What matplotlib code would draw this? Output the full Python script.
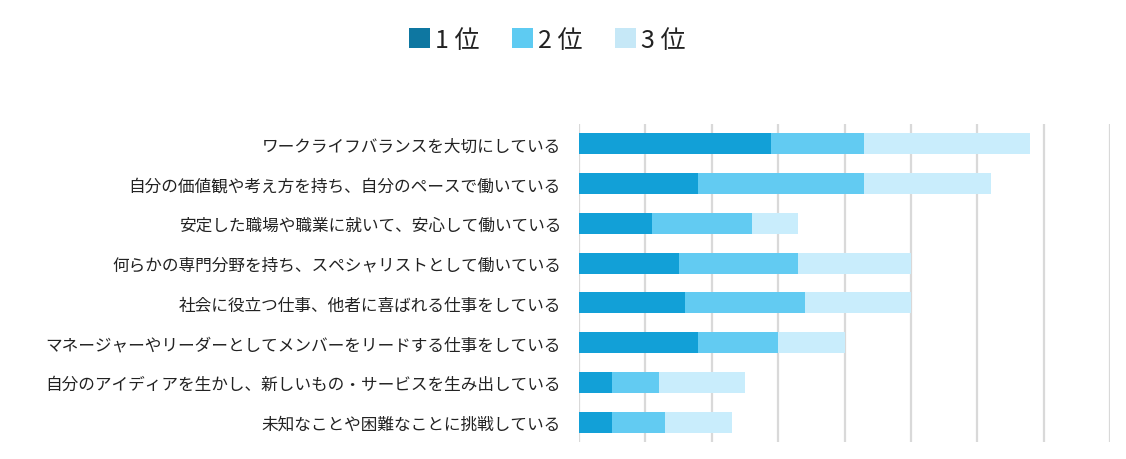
import matplotlib
matplotlib.use("Agg")
import matplotlib.pyplot as plt
from matplotlib.patches import Patch
import numpy as np

plt.rcParams['font.family'] = ['Noto Sans CJK JP', 'DejaVu Sans']

categories = [
    "ワークライフバランスを大切にしている",
    "自分の価値観や考え方を持ち、自分のペースで働いている",
    "安定した職場や職業に就いて、安心して働いている",
    "何らかの専門分野を持ち、スペシャリストとして働いている",
    "社会に役立つ仕事、他者に喜ばれる仕事をしている",
    "マネージャーやリーダーとしてメンバーをリードする仕事をしている",
    "自分のアイディアを生かし、新しいもの・サービスを生み出している",
    "未知なことや困難なことに挑戦している",
]
series_names = ["1 位", "2 位", "3 位"]
rank1 = [29, 18, 11, 15, 16, 18, 5, 5]
rank2 = [14, 25, 15, 18, 18, 12, 7, 8]
rank3 = [25, 19, 7, 17, 16, 10, 13, 10]

bar_colors = ["#12a0d7", "#62cbf2", "#c9edfc"]
legend_colors = ["#0e77a1", "#5ecbf2", "#c6e8f7"]

fig = plt.figure(figsize=(11.26, 4.60), dpi=100)
ax = fig.add_axes([579/1126, 1-443/460, (1110-579)/1126, (443-125)/460])

y = np.arange(len(categories))
left = np.zeros(len(categories))
for vals, c in zip([rank1, rank2, rank3], bar_colors):
    ax.barh(y, vals, left=left, height=0.53, color=c, zorder=3)
    left = left + np.array(vals)

ax.set_xlim(0, 80)
ax.set_ylim(len(categories) - 0.5, -0.5)
ax.set_xticks(np.arange(0, 81, 10))
ax.xaxis.grid(True, color="#d9d9d9", linewidth=1.6, zorder=0)
ax.tick_params(axis='x', length=0, labelbottom=False)
ax.set_yticks(y)
ax.set_yticklabels(categories, fontsize=12, color="#222222")
ax.tick_params(axis='y', length=0, pad=13)
for s in ax.spines.values():
    s.set_visible(False)

handles = [Patch(facecolor=c, edgecolor='none') for c in legend_colors]
fig.legend(handles, series_names, loc='center', bbox_to_anchor=(0.486, 1-41/460),
           ncol=3, frameon=False, fontsize=18, handlelength=0.85, handleheight=0.85,
           handletextpad=0.2, columnspacing=1.3, labelcolor="#222222")

fig.savefig("out.png", dpi=100)
